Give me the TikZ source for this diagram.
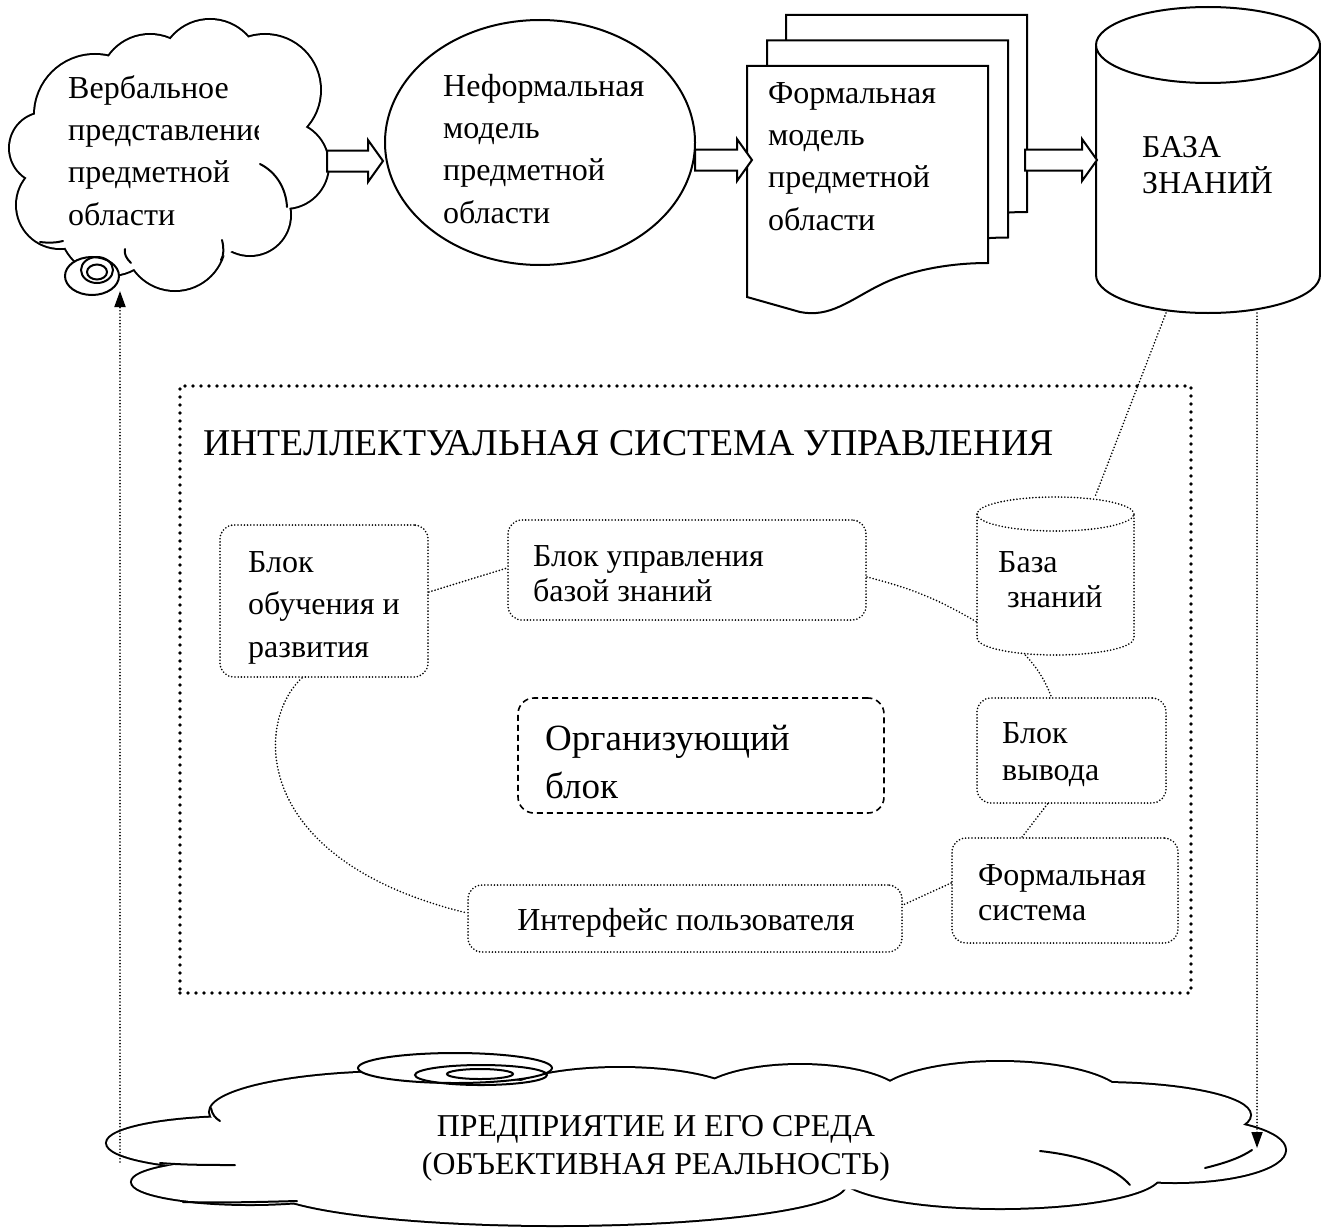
\documentclass[tikz,border=0pt]{standalone}
\usepackage{fontspec}
\setmainfont{Liberation Serif}
\usetikzlibrary{arrows.meta,calc,shapes.geometric}
\newcommand\fA{\fontsize{32}{42.3}\selectfont}
\newcommand\fB{\fontsize{32}{35.5}\selectfont}
\newcommand\fT{\fontsize{37.8}{40}\selectfont}
\newcommand\fO{\fontsize{37}{48}\selectfont}
\newcommand\fK{\fontsize{31.8}{36}\selectfont}
\newcommand\cloudunion[1]{%
 \foreach \cx/\cy/\rx/\ry in {#1}{\draw[line width=4pt] (\cx,\cy) ellipse [x radius=\rx pt, y radius=\ry pt];}
 \foreach \cx/\cy/\rx/\ry in {#1}{\fill[white] (\cx,\cy) ellipse [x radius=\rx pt, y radius=\ry pt];}}
\newcommand\barr[3]{% x1, x2, yc
 \draw[shp, fill=white] (#1,#3-10.5) -- (#2-15,#3-10.5) -- (#2-15,#3-21) -- (#2,#3) -- (#2-15,#3+21) -- (#2-15,#3+10.5) -- (#1,#3+10.5) -- cycle;}
\begin{document}
\begin{tikzpicture}[x=1pt,y=-1pt,
  shp/.style={line width=2pt},
  tail/.style={line width=2pt, line cap=round},
  tdot/.style={line width=1.8pt, dash pattern=on 0pt off 3.2pt, line cap=round},
  bigdot/.style={line width=3.8pt, dash pattern=on 0pt off 8pt, line cap=round},
  rbox/.style={draw, tdot, rounded corners=14pt, inner sep=0pt},
  txt/.style={align=left, inner sep=0pt, anchor=base west},
  tip/.style={-{Triangle[length=16pt,width=11pt]}}]
\useasboundingbox (0,0) rectangle (1321,1228);
\fill[white] (0,0) rectangle (1321,1228);

% ---------- top-left cloud ----------
\cloudunion{45/148/35/35, 60/205/43/43, 110/225/50/50, 175/240/50/50, 250/215/40/40,
  285/165/43/43, 265/90/55/55, 210/70/50/50, 150/85/50/50, 95/115/60/60}
\fill[white] (170,160) circle [radius=110pt];
\draw[tail] (40,242) .. controls (48,243) and (56,243) .. (63,241);
\draw[tail] (131,263) .. controls (126,258) and (124,254) .. (125,249);
\draw[tail] (221,260) .. controls (224,255) and (224,248) .. (222,240);
\draw[tail] (287,207) .. controls (286,188) and (276,172) .. (260,164);
\draw[shp, fill=white] (92,276) ellipse [x radius=27pt, y radius=19pt];
\draw[shp] (97,270) ellipse [x radius=16pt, y radius=13pt];
\draw[shp] (97,272) ellipse [x radius=10pt, y radius=7.5pt];
\coordinate (verbring) at (120,291);
\begin{scope}
\clip (0,0) rectangle (258,300);
\node[txt, font=\fA] (verb) at (68,225) {Вербальное\\представление\\предметной\\области};
\end{scope}

% ---------- informal model ----------
\node[draw, shp, ellipse, minimum width=310, minimum height=245, inner sep=0pt] (nfm) at (540,142.5) {};
\node[txt, font=\fA] (nfmT) at (443,223) {Неформальная\\модель\\предметной\\области};

% ---------- formal model (document stack) ----------
\foreach \dx/\dy in {39/-51, 20/-25.5, 0/0}{
  \draw[shp, fill=white, shift={(\dx,\dy)}] (747,66) -- (988,66) -- (988,263)
    .. controls (950,263) and (910,270) .. (880,285)
    .. controls (850,300) and (830,318) .. (800,312) -- (747,297) -- cycle;}
\coordinate (docL) at (747,161);
\coordinate (docR) at (988,161);
\node[txt, font=\fA] (docT) at (768,230) {Формальная\\модель\\предметной\\области};

% ---------- knowledge base cylinder ----------
\draw[shp, fill=white] (1096,45) -- (1096,275) arc[start angle=180, end angle=360, x radius=112pt, y radius=38pt] -- (1320,45);
\draw[shp, fill=white] (1208,45) ellipse [x radius=112pt, y radius=38pt];
\coordinate (bkbL) at (1096,161);
\coordinate (bkb1) at (1166,313);
\coordinate (bkb2) at (1257,313);
\node[txt, font=\fK] (bkbT) at (1142,193) {БАЗА\\ЗНАНИЙ};

% ---------- block arrows ----------
\barr{327}{383}{161}
\barr{695}{752}{160}
\barr{1025}{1097}{160}

% ---------- intelligent control system ----------
\node[draw, bigdot, minimum width=1011, minimum height=607, inner sep=0pt] (frame) at (685.5,689.5) {};
\node[txt, font=\fT] (title) at (203,455) {ИНТЕЛЛЕКТУАЛЬНАЯ СИСТЕМА УПРАВЛЕНИЯ};

\node[rbox, minimum width=208, minimum height=152] (learn) at (324,601) {};
\node[txt, font=\fA] (learnT) at (248,657) {Блок\\обучения и\\развития};

\node[rbox, minimum width=358, minimum height=100] (kbm) at (687,570) {};
\node[txt, font=\fB] (kbmT) at (533,601.5) {Блок управления\\базой знаний};

\node[inner sep=0pt, minimum width=157, minimum height=158] (kb) at (1055.5,576) {};
\draw[tdot] (977,514) -- (977,638) arc[start angle=180, end angle=360, x radius=78.5pt, y radius=17pt] -- (1134,514);
\draw[tdot] (1055.5,514) ellipse [x radius=78.5pt, y radius=17pt];
\node[txt, font=\fB] (kbT) at (998,607.5) {База\\\hspace*{9pt}знаний};

\node[rbox, minimum width=189, minimum height=105] (vyv) at (1071.5,750.5) {};
\node[txt, font=\fontsize{32}{37}\selectfont] (vyvT) at (1002,780) {Блок\\вывода};

\node[rbox, minimum width=226, minimum height=105] (form) at (1065,890.5) {};
\node[txt, font=\fB] (formT) at (978,920.5) {Формальная\\система};

\node[rbox, minimum width=434, minimum height=67] (iface) at (685,918.5) {};
\node[inner sep=0pt, anchor=base, font=\fB] (ifaceT) at (686,930) {Интерфейс пользователя};

\node[draw, line width=1.6pt, dash pattern=on 6pt off 4pt, rounded corners=16pt, minimum width=366, minimum height=115, inner sep=0pt] (org) at (701,755.5) {};
\node[txt, font=\fO] (orgT) at (545,798) {Организующий\\блок};

% connectors inside
\draw[tdot] ([yshift=9pt]learn.east) -- ([yshift=2pt]kbm.west);
\draw[tdot] ([yshift=-7pt]kbm.east) to[bend left=8] ([yshift=-46pt]kb.west);
\draw[tdot] ([xshift=-30pt]kb.south) to[bend left=10] ([xshift=-20pt]vyv.north);
\draw[tdot] ([xshift=-24pt]vyv.south) -- ([xshift=-43pt]form.north);
\draw[tdot] ([yshift=7.5pt]form.west) -- ([yshift=13.5pt]iface.east);
\draw[tdot] ([xshift=-22pt]learn.south) .. controls +(-47,43) and +(-218,-53) .. ([yshift=5.5pt]iface.west);
\draw[tdot] (bkb1) -- ([xshift=39.5pt]kb.north);

% ---------- bottom cloud ----------
\cloudunion{400/1112/190/40, 240/1143/133/26, 250/1182/118/22, 555/1185/290/40,
  1000/1175/160/33, 1175/1150/110/32, 1100/1115/150/32, 1000/1100/125/38,
  800/1100/105/35, 620/1098/120/30}
\fill[white] (690,1140) ellipse [x radius=520pt, y radius=52pt];
\draw[tail] (211,1108) .. controls (212,1114) and (215,1118) .. (220,1121);
\draw[tail] (160,1163) .. controls (185,1165) and (210,1165) .. (235,1165);
\draw[tail] (183,1202) .. controls (220,1203) and (260,1202) .. (297,1201);
\draw[tail] (1205,1168) .. controls (1225,1163) and (1240,1158) .. (1252,1150);
\draw[tail] (1040,1151) .. controls (1085,1156) and (1115,1168) .. (1130,1185);
\draw[shp, fill=white] (455,1068) ellipse [x radius=97pt, y radius=15pt];
\draw[shp] (481,1075) ellipse [x radius=66pt, y radius=10pt];
\draw[shp] (480,1074) ellipse [x radius=33pt, y radius=5pt];
\node[inner sep=0pt, anchor=base, align=center, font=\fontsize{31.8}{38}\selectfont] (ent) at (656,1174) {ПРЕДПРИЯТИЕ И ЕГО СРЕДА\\(ОБЪЕКТИВНАЯ РЕАЛЬНОСТЬ)};
\coordinate (entL) at (120,1162);
\coordinate (entR) at (1257,1148);

% ---------- outer dotted arrows ----------
\draw[tdot, tip] (bkb2) -- (entR);
\draw[tdot, tip] (entL) -- (verbring);
\end{tikzpicture}
\end{document}
